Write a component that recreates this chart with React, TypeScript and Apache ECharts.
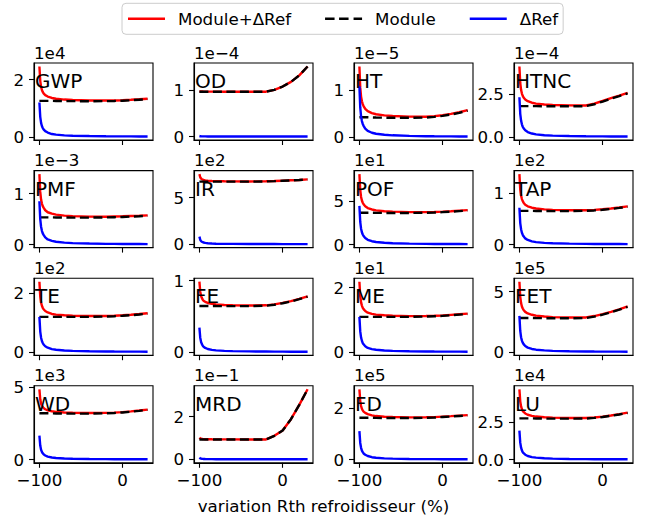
import React, { useEffect, useRef } from "react";
import * as echarts from "echarts";

// x values: variation Rth refroidisseur (%)
const X = [-100, -99, -98, -97, -96, -95, -93, -90, -85, -80, -70, -60, -40, -20, -10, 0, 10, 20, 30];

const NAMES = ["GWP", "OD", "HT", "HTNC", "PMF", "IR", "POF", "TAP", "TE", "FE", "ME", "FET", "WD", "MRD", "FD", "LU"];
const OFFSETS = ["1e4", "1e\u22124", "1e\u22125", "1e\u22124", "1e\u22123", "1e2", "1e1", "1e2", "1e2", "", "1e1", "1e5", "1e3", "1e\u22121", "1e5", "1e4"];
const Y_TICKS = [[0, 2], [0, 1], [0, 1], [0, 2.5], [0, 1], [0, 5], [0, 5], [0, 1], [0, 2], [0, 1], [0, 2], [0, 5], [0, 5], [0, 2], [0, 2], [0, 2.5]];
const Y_DECIMALS = [0, 0, 0, 1, 0, 0, 0, 0, 0, 0, 0, 0, 0, 0, 0, 1];
const X_TICKS = [-100, 0];

// Module (values in units of the offset shown above each panel)
const MOD_GWP = [1.26, 1.26, 1.26, 1.26, 1.26, 1.26, 1.26, 1.26, 1.26, 1.255, 1.25, 1.25, 1.245, 1.25, 1.255, 1.265, 1.28, 1.3, 1.32];
const MOD_OD = [0.96, 0.96, 0.96, 0.96, 0.96, 0.96, 0.96, 0.96, 0.96, 0.96, 0.96, 0.96, 0.96, 0.96, 1.0, 1.07, 1.17, 1.31, 1.5];
const MOD_HT = [0.42, 0.42, 0.42, 0.42, 0.42, 0.42, 0.42, 0.42, 0.418, 0.415, 0.412, 0.41, 0.41, 0.415, 0.43, 0.45, 0.48, 0.515, 0.56];
const MOD_HTNC = [1.81, 1.81, 1.81, 1.81, 1.81, 1.81, 1.81, 1.81, 1.81, 1.81, 1.805, 1.8, 1.8, 1.81, 1.92, 2.08, 2.25, 2.4, 2.56];
const MOD_PMF = [0.535, 0.535, 0.535, 0.535, 0.535, 0.535, 0.535, 0.535, 0.535, 0.533, 0.531, 0.53, 0.53, 0.533, 0.538, 0.543, 0.55, 0.557, 0.565];
const MOD_IR = [6.73, 6.73, 6.73, 6.73, 6.73, 6.73, 6.73, 6.73, 6.73, 6.73, 6.73, 6.73, 6.73, 6.75, 6.78, 6.82, 6.86, 6.9, 6.96];
const MOD_POF = [3.67, 3.67, 3.67, 3.67, 3.67, 3.67, 3.67, 3.67, 3.67, 3.66, 3.65, 3.65, 3.65, 3.67, 3.7, 3.74, 3.79, 3.86, 3.93];
const MOD_TAP = [0.66, 0.66, 0.66, 0.66, 0.66, 0.66, 0.66, 0.66, 0.66, 0.658, 0.656, 0.655, 0.655, 0.66, 0.668, 0.68, 0.697, 0.717, 0.74];
const MOD_TE = [1.2, 1.2, 1.2, 1.2, 1.2, 1.2, 1.2, 1.2, 1.2, 1.2, 1.2, 1.2, 1.2, 1.21, 1.222, 1.238, 1.258, 1.283, 1.31];
const MOD_FE = [0.645, 0.645, 0.645, 0.645, 0.645, 0.645, 0.645, 0.645, 0.645, 0.644, 0.643, 0.643, 0.643, 0.648, 0.662, 0.683, 0.708, 0.74, 0.775];
const MOD_ME = [1.09, 1.09, 1.09, 1.09, 1.09, 1.09, 1.09, 1.09, 1.09, 1.09, 1.09, 1.09, 1.09, 1.1, 1.11, 1.12, 1.14, 1.16, 1.18];
const MOD_FET = [2.83, 2.83, 2.83, 2.83, 2.83, 2.83, 2.83, 2.83, 2.83, 2.82, 2.81, 2.8, 2.8, 2.82, 2.94, 3.1, 3.3, 3.51, 3.75];
const MOD_WD = [3.2, 3.2, 3.2, 3.2, 3.2, 3.2, 3.2, 3.2, 3.2, 3.19, 3.185, 3.18, 3.18, 3.2, 3.225, 3.26, 3.31, 3.37, 3.44];
const MOD_MRD = [0.93, 0.93, 0.93, 0.93, 0.93, 0.93, 0.93, 0.93, 0.93, 0.93, 0.93, 0.93, 0.93, 0.93, 1.1, 1.35, 1.88, 2.55, 3.28];
const MOD_FD = [1.63, 1.63, 1.63, 1.63, 1.63, 1.63, 1.63, 1.63, 1.63, 1.625, 1.62, 1.62, 1.62, 1.63, 1.64, 1.66, 1.68, 1.7, 1.72];
const MOD_LU = [2.77, 2.77, 2.77, 2.77, 2.77, 2.77, 2.77, 2.77, 2.77, 2.76, 2.755, 2.75, 2.75, 2.76, 2.8, 2.86, 2.94, 3.03, 3.13];

// ΔRef
const REF_GWP = [1.2, 0.7, 0.49, 0.38, 0.31, 0.26, 0.2, 0.15, 0.1, 0.078, 0.054, 0.041, 0.028, 0.02, 0.018, 0.017, 0.016, 0.014, 0.013];
const REF_OD = [0.01, 0.006, 0.004, 0.003, 0.003, 0.002, 0.002, 0.001, 0.001, 0.001, 0, 0, 0, 0, 0, 0, 0, 0, 0];
const REF_HT = [1.08, 0.63, 0.44, 0.34, 0.28, 0.24, 0.18, 0.13, 0.092, 0.07, 0.049, 0.037, 0.025, 0.018, 0.016, 0.015, 0.014, 0.013, 0.012];
const REF_HTNC = [2.33, 1.36, 0.96, 0.74, 0.6, 0.51, 0.39, 0.29, 0.2, 0.15, 0.1, 0.079, 0.054, 0.04, 0.035, 0.033, 0.03, 0.028, 0.026];
const REF_PMF = [0.85, 0.5, 0.35, 0.27, 0.22, 0.19, 0.14, 0.1, 0.072, 0.055, 0.038, 0.029, 0.02, 0.014, 0.013, 0.012, 0.011, 0.01, 0.009];
const REF_IR = [0.81, 0.47, 0.33, 0.26, 0.21, 0.18, 0.135, 0.1, 0.069, 0.053, 0.036, 0.028, 0.019, 0.014, 0.012, 0.011, 0.011, 0.01, 0.009];
const REF_POF = [4.47, 2.61, 1.83, 1.42, 1.16, 0.98, 0.75, 0.55, 0.38, 0.29, 0.2, 0.15, 0.1, 0.076, 0.067, 0.063, 0.058, 0.054, 0.049];
const REF_TAP = [0.72, 0.42, 0.3, 0.23, 0.19, 0.16, 0.12, 0.089, 0.061, 0.047, 0.032, 0.024, 0.017, 0.012, 0.011, 0.01, 0.009, 0.009, 0.008];
const REF_TE = [1.2, 0.7, 0.49, 0.38, 0.31, 0.26, 0.2, 0.15, 0.1, 0.078, 0.054, 0.041, 0.028, 0.02, 0.018, 0.017, 0.016, 0.014, 0.013];
const REF_FE = [0.34, 0.2, 0.14, 0.11, 0.088, 0.074, 0.057, 0.042, 0.029, 0.022, 0.015, 0.012, 0.008, 0.006, 0.005, 0.005, 0.004, 0.004, 0.004];
const REF_ME = [1.09, 0.64, 0.45, 0.35, 0.28, 0.24, 0.18, 0.13, 0.093, 0.071, 0.049, 0.037, 0.025, 0.019, 0.016, 0.015, 0.014, 0.013, 0.012];
const REF_FET = [3.0, 1.75, 1.23, 0.95, 0.78, 0.66, 0.5, 0.37, 0.26, 0.2, 0.14, 0.1, 0.069, 0.051, 0.045, 0.042, 0.039, 0.036, 0.033];
const REF_WD = [1.66, 0.97, 0.68, 0.53, 0.43, 0.36, 0.28, 0.2, 0.14, 0.11, 0.075, 0.056, 0.038, 0.028, 0.025, 0.023, 0.022, 0.02, 0.018];
const REF_MRD = [0.08, 0.047, 0.033, 0.025, 0.021, 0.018, 0.013, 0.01, 0.007, 0.005, 0.004, 0.003, 0.002, 0.001, 0.001, 0.001, 0.001, 0.001, 0.001];
const REF_FD = [1.11, 0.65, 0.46, 0.35, 0.29, 0.24, 0.19, 0.14, 0.094, 0.072, 0.05, 0.038, 0.026, 0.019, 0.017, 0.016, 0.014, 0.013, 0.012];
const REF_LU = [1.95, 1.14, 0.8, 0.62, 0.5, 0.43, 0.33, 0.24, 0.17, 0.13, 0.088, 0.066, 0.045, 0.033, 0.029, 0.027, 0.025, 0.023, 0.021];

const MODULE = [MOD_GWP, MOD_OD, MOD_HT, MOD_HTNC, MOD_PMF, MOD_IR, MOD_POF, MOD_TAP, MOD_TE, MOD_FE, MOD_ME, MOD_FET, MOD_WD, MOD_MRD, MOD_FD, MOD_LU];
const DREF = [REF_GWP, REF_OD, REF_HT, REF_HTNC, REF_PMF, REF_IR, REF_POF, REF_TAP, REF_TE, REF_FE, REF_ME, REF_FET, REF_WD, REF_MRD, REF_FD, REF_LU];

const S_SUM = "Module+\u0394Ref";
const S_MOD = "Module";
const S_REF = "\u0394Ref";
const X_LABEL = "variation Rth refroidisseur (%)";

const FONT = "DejaVu Sans";
const FS = 16.7;
const GRID_LEFT = [34, 194, 354, 514];
const GRID_TOP = [63, 170.6, 278.2, 385.8];
const GW = 119;
const GH = 77;

const ICON_SOLID = "path://M0,0h37v2.5h-37z";
const ICON_DASH = "path://M0,0h9.5v2.5h-9.5zM14,0h9.5v2.5h-9.5zM28.5,0h8.5v2.5h-8.5z";

function buildOption() {
  const grid: any[] = [];
  const xAxis: any[] = [];
  const yAxis: any[] = [];
  const series: any[] = [];
  const graphic: any[] = [];
  const axisLine = { show: true, onZero: false, lineStyle: { color: "#000", width: 1.1 } };
  for (let k = 0; k < 16; k++) {
    const r = Math.floor(k / 4);
    const c = k % 4;
    const left = GRID_LEFT[c];
    const top = GRID_TOP[r];
    grid.push({ left, top, width: GW, height: GH, show: true, borderColor: "#000", borderWidth: 1.1, backgroundColor: "transparent", containLabel: false });
    const mod = MODULE[k];
    const ref = DREF[k];
    const sum = mod.map((v, i) => +(v + ref[i]).toFixed(4));
    const all = sum.concat(mod, ref);
    const mx = Math.max(...all);
    const mn = Math.min(...all);
    const span = mx - mn;
    xAxis.push({
      type: "value", gridIndex: k, min: -106.5, max: 36.5,
      axisLine,
      splitLine: { show: false },
      axisTick: { show: true, inside: false, length: 5, customValues: X_TICKS, lineStyle: { color: "#000", width: 1.1 } },
      axisLabel: {
        show: r === 3, customValues: X_TICKS, margin: 9, color: "#000", fontFamily: FONT, fontSize: FS,
        formatter: (v: number) => String(v).replace("-", "\u2212"),
      },
    });
    const dec = Y_DECIMALS[k];
    yAxis.push({
      type: "value", gridIndex: k, min: mn - 0.05 * span, max: mx + 0.05 * span,
      axisLine,
      splitLine: { show: false },
      axisTick: { show: true, inside: false, length: 5, customValues: Y_TICKS[k], lineStyle: { color: "#000", width: 1.1 } },
      axisLabel: {
        show: true, customValues: Y_TICKS[k], margin: 10, color: "#000", fontFamily: FONT, fontSize: FS,
        formatter: (v: number) => v.toFixed(dec),
      },
    });
    const base = { type: "line", xAxisIndex: k, yAxisIndex: k, symbol: "none", showSymbol: false, silent: true, clip: true };
    series.push({ ...base, name: S_SUM, data: X.map((x, i) => [x, sum[i]]), lineStyle: { color: "#ff0000", width: 2.4 }, itemStyle: { color: "#ff0000" }, z: 2 });
    series.push({ ...base, name: S_MOD, data: X.map((x, i) => [x, mod[i]]), lineStyle: { color: "#000000", width: 2.4, type: [9, 4.5] }, itemStyle: { color: "#000000" }, z: 3 });
    series.push({ ...base, name: S_REF, data: X.map((x, i) => [x, ref[i]]), lineStyle: { color: "#0000ff", width: 2.4 }, itemStyle: { color: "#0000ff" }, z: 4 });
    graphic.push({ type: "text", left: left + 1, top: top + 8, silent: true, z: 10, style: { text: NAMES[k], fill: "#000", font: `20px "${FONT}"` } });
    if (OFFSETS[k]) {
      graphic.push({ type: "text", left: left, top: top - 19, silent: true, z: 10, style: { text: OFFSETS[k], fill: "#000", font: `${FS}px "${FONT}"` } });
    }
  }
  graphic.push({ type: "text", left: "center", top: 497, silent: true, style: { text: X_LABEL, fill: "#000", font: `${FS}px "${FONT}"` } });
  return {
    animation: false,
    backgroundColor: "#ffffff",
    textStyle: { fontFamily: FONT },
    legend: {
      data: [
        { name: S_SUM, icon: ICON_SOLID },
        { name: S_MOD, icon: ICON_DASH },
        { name: S_REF, icon: ICON_SOLID },
      ],
      top: 3.3, left: 122,
      padding: [7, 5, 7, 6],
      itemWidth: 37, itemHeight: 2.5, itemGap: 34,
      borderColor: "#cccccc", borderWidth: 1, borderRadius: 4,
      backgroundColor: "rgba(255,255,255,0.8)",
      textStyle: { fontFamily: FONT, fontSize: FS, color: "#000", padding: [0, 0, 0, 8] },
      selectedMode: false,
    },
    grid, xAxis, yAxis, series, graphic,
  };
}

export default function App() {
  const ref = useRef<HTMLDivElement>(null);
  useEffect(() => {
    if (!ref.current) return;
    const chart = echarts.init(ref.current, null, { renderer: "svg" });
    chart.setOption(buildOption() as any);
    return () => chart.dispose();
  }, []);
  return <div ref={ref} style={{ position: "absolute", left: 0, top: 0, width: 647, height: 521 }} />;
}
